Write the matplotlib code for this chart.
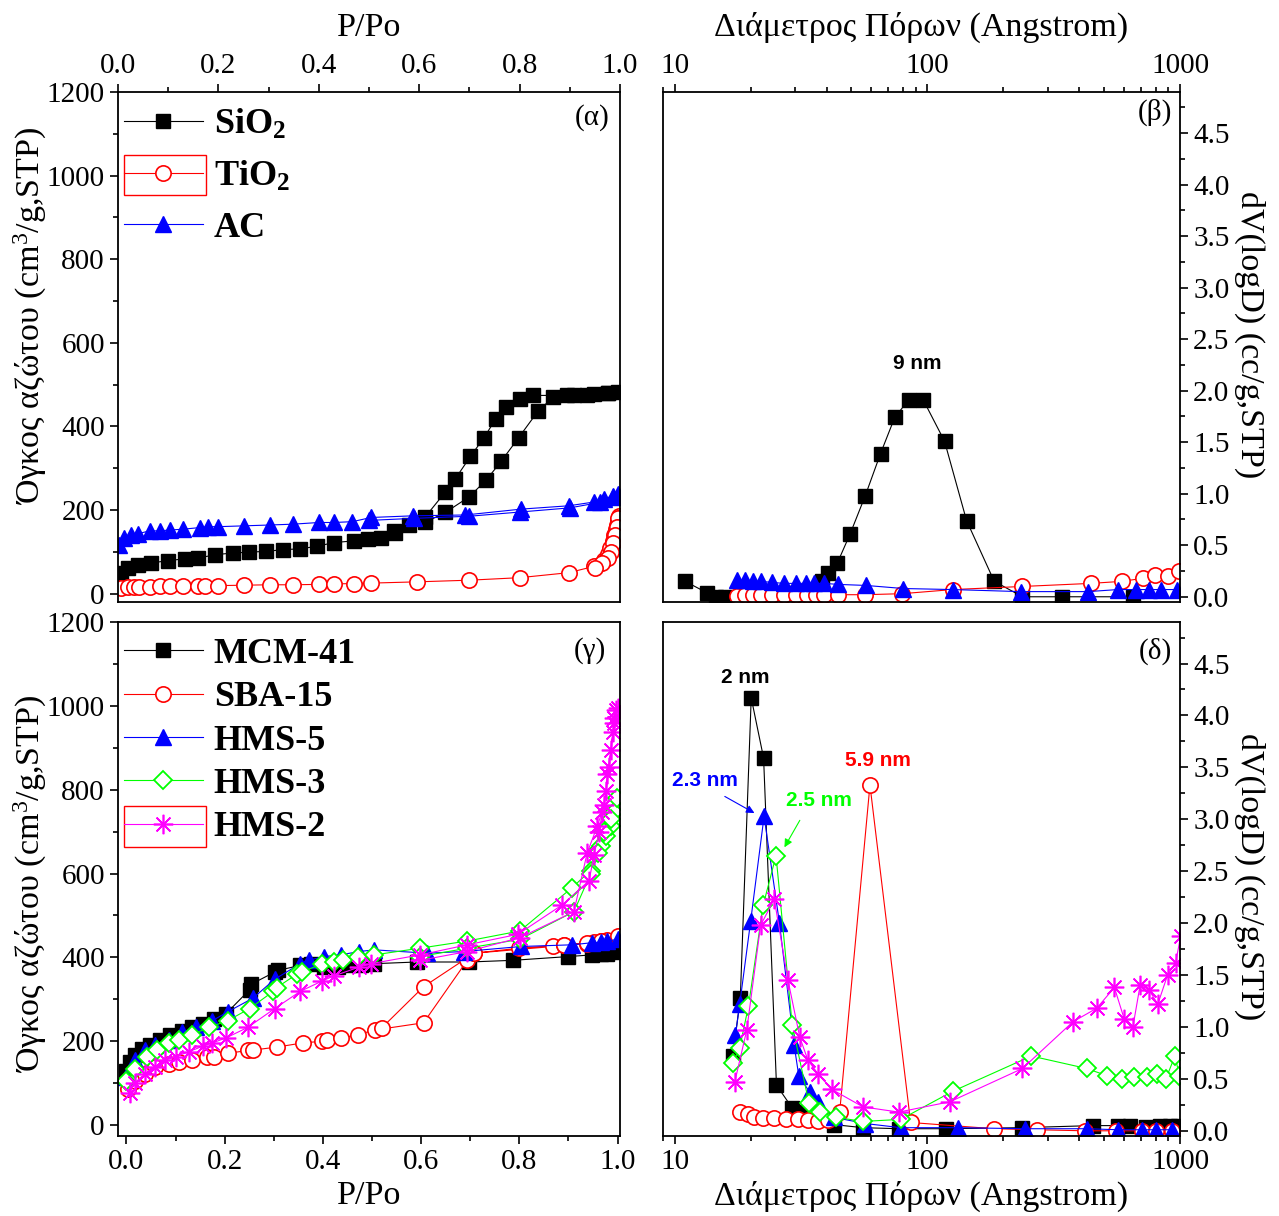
import matplotlib
matplotlib.use('Agg')
import matplotlib.pyplot as plt
from matplotlib.ticker import MultipleLocator, LogLocator, FuncFormatter, NullFormatter
from matplotlib.patches import Rectangle
from matplotlib.lines import Line2D

plt.rcParams['font.family'] = ['Liberation Serif', 'DejaVu Serif']
plt.rcParams['mathtext.fontset'] = 'custom'
plt.rcParams['mathtext.rm'] = 'Liberation Serif'
plt.rcParams['mathtext.bf'] = 'Liberation Serif:bold'
plt.rcParams['mathtext.it'] = 'Liberation Serif:italic'

# ---------------- Panel (a): isotherms ----------------
sio2_p = [0.005, 0.02, 0.039, 0.066, 0.10, 0.133, 0.16, 0.194, 0.228, 0.261, 0.295, 0.329, 0.362,
          0.396, 0.43, 0.47, 0.497, 0.524, 0.551, 0.611, 0.652, 0.699, 0.733, 0.763, 0.798, 0.837,
          0.867, 0.908, 0.948, 0.975, 0.995,
          0.975, 0.935, 0.894, 0.827, 0.80, 0.773, 0.752, 0.729, 0.702, 0.672, 0.652, 0.611, 0.58, 0.55]
sio2_v = [49, 60, 69, 73, 79, 83, 85, 93, 97, 99, 101, 105, 107,
          113, 122, 126, 130, 134, 146, 170, 194, 231, 271, 316, 373, 437,
          470, 474, 478, 480, 482,
          480, 476, 474, 474, 466, 446, 417, 373, 328, 275, 243, 182, 165, 150]

tio2_p = [0.005, 0.019, 0.032, 0.042, 0.063, 0.083, 0.103, 0.13, 0.16, 0.174, 0.2, 0.251, 0.302,
          0.349, 0.4, 0.43, 0.47, 0.504, 0.595, 0.7, 0.8, 0.898, 0.948, 0.968, 0.975, 0.98, 0.985,
          0.988, 0.991, 0.994, 0.996, 0.998,
          0.996, 0.993, 0.99, 0.986, 0.981, 0.975, 0.965, 0.95]
tio2_v = [14, 15, 15, 16, 16, 17, 17, 18, 18, 19, 19, 20, 21,
          21, 22, 23, 24, 25, 28, 32, 38, 50, 65, 80, 95, 110, 125,
          140, 155, 165, 175, 185,
          180, 160, 140, 120, 100, 85, 72, 62]

ac_p = [0.002, 0.012, 0.026, 0.039, 0.063, 0.083, 0.103, 0.13, 0.164, 0.18, 0.2, 0.251, 0.302,
        0.349, 0.4, 0.43, 0.467, 0.504, 0.588, 0.692, 0.803, 0.898, 0.948, 0.968, 0.985, 0.995,
        0.985, 0.96, 0.9, 0.8, 0.7, 0.59, 0.5]
ac_v = [117, 134, 139, 143, 150, 150, 152, 154, 158, 160, 160, 162, 164,
        166, 170, 170, 172, 182, 186, 188, 202, 210, 219, 227, 233, 239,
        232, 218, 205, 195, 185, 180, 175]

# ---------------- Panel (b): pore size distributions ----------------
sio2_d = [11.0, 13.4, 14.6, 15.8, 38.4, 40.6, 44.1, 49.5, 56.8, 65.3, 74.3, 84.3, 96.4, 117, 143,
          184, 238, 342, 649]
sio2_dv = [0.15, 0.04, 0.0, 0.0, 0.15, 0.23, 0.33, 0.61, 0.98, 1.39, 1.74, 1.91, 1.91, 1.51, 0.74,
           0.15, 0.0, 0.0, 0.0]

tio2_d = [17.6, 19.0, 20.4, 21.9, 24.2, 27.0, 30.2, 33.5, 36.3, 39.1, 44.4, 56.8, 79.5, 126, 238,
          445, 592, 716, 797, 898, 992]
tio2_dv = [0.01, 0.02, 0.02, 0.02, 0.02, 0.02, 0.02, 0.02, 0.02, 0.02, 0.02, 0.02, 0.03, 0.07, 0.10,
           0.13, 0.15, 0.18, 0.21, 0.20, 0.25]

ac_d = [17.6, 19.0, 20.4, 21.9, 24.2, 27.0, 30.2, 33.0, 35.7, 39.1, 44.4, 57.1, 80.5, 126, 234,
        432, 568, 667, 757, 844, 975]
ac_dv = [0.16, 0.16, 0.15, 0.15, 0.14, 0.13, 0.13, 0.13, 0.13, 0.13, 0.12, 0.11, 0.08, 0.07, 0.05,
         0.05, 0.07, 0.07, 0.07, 0.07, 0.07]

# ---------------- Panel (c): isotherms ----------------
mcm_p = [0.0, 0.007, 0.017, 0.031, 0.048, 0.069, 0.089, 0.113, 0.134, 0.155, 0.179, 0.203, 0.251,
         0.254, 0.302, 0.309, 0.354, 0.375, 0.402, 0.43, 0.454, 0.478, 0.505, 0.591, 0.698, 0.787,
         0.9, 0.948, 0.966, 0.979, 0.999]
mcm_v = [130, 151, 167, 181, 192, 204, 214, 225, 233, 241, 253, 266, 323,
         336, 365, 369, 381, 385, 377, 377, 381, 381, 385, 389, 389, 393,
         402, 406, 407, 408, 414]

sba_p = [0.003, 0.017, 0.038, 0.058, 0.086, 0.107, 0.134, 0.165, 0.179, 0.206, 0.247, 0.258, 0.306,
         0.359, 0.399, 0.409, 0.436, 0.471, 0.507, 0.605, 0.694, 0.708, 0.869, 0.89, 0.938, 0.952,
         0.966, 0.979, 1.0,
         0.966, 0.938, 0.89, 0.80, 0.708, 0.605, 0.52]
sba_v = [85, 105, 122, 138, 146, 151, 155, 163, 163, 171, 178, 179, 186,
         196, 200, 204, 207, 216, 227, 244, 393, 410, 426, 430, 433, 436,
         439, 441, 451,
         440, 434, 430, 422, 410, 330, 232]

hms5_p = [0.0, 0.017, 0.038, 0.058, 0.086, 0.113, 0.141, 0.175, 0.206, 0.258, 0.302, 0.354, 0.371,
          0.402, 0.436, 0.474, 0.505, 0.612, 0.687, 0.804, 0.907, 0.948, 0.966, 0.979, 1.0]
hms5_v = [114, 155, 179, 192, 204, 221, 233, 249, 270, 303, 348, 385, 393,
          402, 406, 414, 418, 410, 414, 426, 430, 435, 436, 439, 443]

hms3_p = [0.0, 0.017, 0.041, 0.062, 0.086, 0.107, 0.134, 0.168, 0.206, 0.251, 0.299, 0.306, 0.347,
          0.357, 0.399, 0.423, 0.44, 0.471, 0.505, 0.598, 0.694, 0.801, 0.907, 0.945, 0.955, 0.966,
          0.976, 0.986, 0.993, 0.999,
          0.986, 0.973, 0.96, 0.945, 0.911, 0.801, 0.694, 0.598]
hms3_v = [105, 134, 163, 179, 196, 204, 216, 233, 249, 278, 319, 328, 360,
          365, 385, 389, 393, 402, 406, 422, 439, 463, 566, 607, 649, 665,
          690, 714, 747, 780,
          731, 698, 649, 599, 509, 443, 422, 402]

hms2_p = [0.007, 0.017, 0.038, 0.058, 0.079, 0.1, 0.127, 0.155, 0.175, 0.203, 0.247, 0.302, 0.354,
          0.399, 0.423, 0.474, 0.498, 0.598, 0.694, 0.797, 0.887, 0.942, 0.952, 0.962, 0.969, 0.976,
          0.979, 0.986, 0.99, 0.993, 0.997, 1.0,
          0.993, 0.983, 0.973, 0.959, 0.938, 0.911, 0.801, 0.694, 0.598]
hms2_v = [77, 101, 122, 138, 155, 163, 175, 188, 196, 208, 233, 278, 319,
          344, 356, 377, 385, 406, 430, 455, 525, 583, 644, 698, 747, 797,
          838, 895, 937, 970, 990, 994,
          960, 854, 764, 714, 649, 509, 447, 414, 393]

# ---------------- Panel (d): pore size distributions ----------------
mcm_d = [17.0, 18.2, 20.1, 22.5, 25.3, 29.2, 31.3, 42.6, 55.7, 77.1, 119, 236, 451, 570, 632, 732,
         832, 910, 980]
mcm_dv = [0.72, 1.28, 4.17, 3.59, 0.44, 0.22, 0.18, 0.06, 0.03, 0.02, 0.02, 0.03, 0.05, 0.05, 0.05,
          0.04, 0.05, 0.05, 0.05]

sba_d = [18.2, 19.6, 20.7, 22.4, 24.8, 27.6, 30.8, 33.7, 36.9, 40.4, 45.0, 59.3, 85.9, 183, 272,
         420, 560, 708, 804, 927]
sba_dv = [0.18, 0.16, 0.13, 0.12, 0.12, 0.11, 0.11, 0.10, 0.09, 0.10, 0.18, 3.33, 0.08, 0.02, 0.01,
          0.0, 0.0, 0.0, 0.0, 0.0]

hms5_d = [17.4, 18.1, 20.0, 22.6, 26.0, 29.7, 31.0, 34.3, 36.9, 42.6, 56.8, 78.5, 132, 244, 427,
          570, 708, 804, 927]
hms5_dv = [0.92, 1.22, 2.02, 3.03, 2.0, 0.83, 0.53, 0.37, 0.28, 0.13, 0.07, 0.03, 0.03, 0.02, 0.02,
           0.01, 0.01, 0.01, 0.01]

hms3_d = [17.0, 18.1, 19.6, 22.4, 25.2, 29.2, 34.0, 37.5, 43.4, 55.7, 78.5, 126, 258, 427, 515,
          587, 658, 739, 809, 879, 955, 995]
hms3_dv = [0.65, 0.80, 1.20, 2.17, 2.65, 1.02, 0.27, 0.18, 0.13, 0.09, 0.11, 0.38, 0.72, 0.60, 0.53,
           0.50, 0.52, 0.52, 0.55, 0.50, 0.72, 0.53]

hms2_d = [17.3, 19.3, 21.9, 24.8, 28.1, 31.3, 33.7, 36.9, 41.8, 55.7, 77.1, 123, 238, 377, 468,
          550, 601, 651, 695, 752, 817, 893, 961, 1007]
hms2_dv = [0.47, 0.97, 1.98, 2.23, 1.45, 0.90, 0.68, 0.55, 0.40, 0.23, 0.18, 0.28, 0.60, 1.05, 1.18,
           1.38, 1.08, 1.0, 1.40, 1.36, 1.22, 1.50, 1.62, 1.88]

# labels
leg_top = [r'SiO$_\mathbf{2}$', r'TiO$_\mathbf{2}$', 'AC']
leg_bot = ['MCM-41', 'SBA-15', 'HMS-5', 'HMS-3', 'HMS-2']
xlab_iso = 'P/Po'
xlab_psd = 'Διάμετρος Πόρων (Angstrom)'
ylab_iso = 'Όγκος αζώτου (cm$^3$/g,STP)'
ylab_psd = 'dV(logD) (cc/g,STP)'

# styles
LW = 0.8
sty_black = dict(color='black', marker='s', ms=10, lw=LW, mec='black', mfc='black')
sty_red = dict(color='red', marker='o', ms=11, lw=LW, mec='red', mfc='white', mew=1.2)
sty_blue = dict(color='blue', marker='^', ms=11, lw=LW, mec='blue', mfc='blue')
sty_green = dict(color='#00FF00', marker='D', ms=9, lw=LW, mec='#00FF00', mfc='white', mew=1.3)
sty_mag = dict(color='#FF00FF', marker=(8, 2, 0), ms=14, lw=LW, mec='#FF00FF', mew=1.2)

TICK_FS = 21
LAB_FS = 24.5
YLAB_FS = 24.5
LEG_FS = 26

fig = plt.figure(figsize=(12.79, 12.16), dpi=100)
axA = fig.add_axes([0.0923, 0.505, 0.3925, 0.4194])
axB = fig.add_axes([0.5184, 0.505, 0.4042, 0.4194])
axC = fig.add_axes([0.0923, 0.0658, 0.3925, 0.4227])
axD = fig.add_axes([0.5184, 0.0658, 0.4042, 0.4227])

for ax in (axA, axB, axC, axD):
    for s in ax.spines.values():
        s.set_linewidth(1.3)

fmt1 = FuncFormatter(lambda v, p: f'{v:.1f}')
fmt0 = FuncFormatter(lambda v, p: f'{v:.0f}')
fmtlog = FuncFormatter(lambda v, p: f'{v:g}')

leg_kw = dict(loc='upper left', bbox_to_anchor=(-0.02, 1.0), frameon=False,
              prop={'weight': 'bold', 'size': LEG_FS},
              handlelength=2.2, borderaxespad=0.05, handletextpad=0.3, borderpad=0.38)

# ----- (a)
axA.plot(sio2_p, sio2_v, **sty_black)
axA.plot(tio2_p, tio2_v, **sty_red)
axA.plot(ac_p, ac_v, **sty_blue)
axA.set_xlim(0, 1.0)
axA.set_ylim(-20, 1200)
axA.xaxis.tick_top()
axA.xaxis.set_label_position('top')
axA.xaxis.set_major_locator(MultipleLocator(0.2))
axA.xaxis.set_minor_locator(MultipleLocator(0.1))
axA.xaxis.set_major_formatter(fmt1)
axA.yaxis.set_major_locator(MultipleLocator(200))
axA.yaxis.set_minor_locator(MultipleLocator(100))
axA.yaxis.set_major_formatter(fmt0)
axA.tick_params(which='both', direction='out', top=True, bottom=False, left=True, right=False,
                labeltop=True, labelbottom=False, labelsize=TICK_FS, width=1.2)
axA.tick_params(which='major', length=6)
axA.tick_params(which='minor', length=3.5)
axA.set_xlabel(xlab_iso, fontsize=LAB_FS, labelpad=12)
axA.set_ylabel(ylab_iso, fontsize=YLAB_FS, va='center')
axA.yaxis.set_label_coords(-0.175, 0.56)
axA.text(0.945, 0.95, '(α)', transform=axA.transAxes, fontsize=21, ha='center', va='center')

hA = [Line2D([], [], **sty_black), Line2D([], [], **sty_red), Line2D([], [], **sty_blue)]
axA.legend(hA, leg_top, labelspacing=0.5, **leg_kw)
axA.add_patch(Rectangle((0.012, 0.798), 0.163, 0.078, transform=axA.transAxes, fill=False,
                        ec='red', lw=1.0, clip_on=False))

# ----- (b)
axB.plot(sio2_d, sio2_dv, **sty_black)
axB.plot(tio2_d, tio2_dv, **sty_red)
axB.plot(ac_d, ac_dv, **sty_blue)
axB.set_xscale('log')
axB.set_xlim(9, 1000)
axB.set_ylim(-0.05, 4.9)
axB.xaxis.tick_top()
axB.xaxis.set_label_position('top')
axB.yaxis.tick_right()
axB.yaxis.set_label_position('right')
axB.xaxis.set_major_locator(LogLocator(base=10, numticks=10))
axB.xaxis.set_minor_locator(LogLocator(base=10, subs=range(2, 10), numticks=20))
axB.xaxis.set_major_formatter(fmtlog)
axB.xaxis.set_minor_formatter(NullFormatter())
axB.yaxis.set_major_locator(MultipleLocator(0.5))
axB.yaxis.set_minor_locator(MultipleLocator(0.25))
axB.yaxis.set_major_formatter(fmt1)
axB.tick_params(which='both', direction='out', top=True, bottom=False, left=False, right=True,
                labeltop=True, labelbottom=False, labelleft=False, labelright=True,
                labelsize=TICK_FS, width=1.2)
axB.tick_params(which='major', length=6)
axB.tick_params(which='minor', length=3.5)
axB.set_xlabel(xlab_psd, fontsize=LAB_FS, labelpad=12)
axB.set_ylabel(ylab_psd, fontsize=YLAB_FS, rotation=270, va='center')
axB.yaxis.set_label_coords(1.135, 0.524)
axB.text(0.952, 0.96, '(β)', transform=axB.transAxes, fontsize=21, ha='center', va='center')
axB.text(91, 2.26, '9 nm', fontsize=15, fontweight='bold', family='Liberation Sans',
         ha='center', va='center')

# ----- (c)
axC.plot(mcm_p, mcm_v, **sty_black)
axC.plot(sba_p, sba_v, **sty_red)
axC.plot(hms5_p, hms5_v, **sty_blue)
axC.plot(hms3_p, hms3_v, **sty_green)
axC.plot(hms2_p, hms2_v, **sty_mag)
axC.set_xlim(-0.017, 1.005)
axC.set_ylim(-26, 1200)
axC.xaxis.set_major_locator(MultipleLocator(0.2))
axC.xaxis.set_minor_locator(MultipleLocator(0.1))
axC.xaxis.set_major_formatter(fmt1)
axC.yaxis.set_major_locator(MultipleLocator(200))
axC.yaxis.set_minor_locator(MultipleLocator(100))
axC.yaxis.set_major_formatter(fmt0)
axC.tick_params(which='both', direction='out', top=False, bottom=True, left=True, right=False,
                labelsize=TICK_FS, width=1.2)
axC.tick_params(which='major', length=6)
axC.tick_params(which='minor', length=3.5)
axC.set_xlabel(xlab_iso, fontsize=LAB_FS, labelpad=4)
axC.set_ylabel(ylab_iso, fontsize=YLAB_FS, va='center')
axC.yaxis.set_label_coords(-0.175, 0.49)
axC.text(0.94, 0.945, '(γ)', transform=axC.transAxes, fontsize=21, ha='center', va='center')

hC = [Line2D([], [], **sty_black), Line2D([], [], **sty_red), Line2D([], [], **sty_blue),
      Line2D([], [], **sty_green), Line2D([], [], **sty_mag)]
axC.legend(hC, leg_bot, labelspacing=0.28, **leg_kw)
axC.add_patch(Rectangle((0.012, 0.562), 0.163, 0.08, transform=axC.transAxes, fill=False,
                        ec='red', lw=1.0, clip_on=False))

# ----- (d)
axD.plot(mcm_d, mcm_dv, **sty_black)
axD.plot(sba_d, sba_dv, **sty_red)
axD.plot(hms5_d, hms5_dv, **sty_blue)
axD.plot(hms3_d, hms3_dv, **sty_green)
axD.plot(hms2_d, hms2_dv, **sty_mag)
axD.set_xscale('log')
axD.set_xlim(9, 1000)
axD.set_ylim(-0.05, 4.9)
axD.yaxis.tick_right()
axD.yaxis.set_label_position('right')
axD.xaxis.set_major_locator(LogLocator(base=10, numticks=10))
axD.xaxis.set_minor_locator(LogLocator(base=10, subs=range(2, 10), numticks=20))
axD.xaxis.set_major_formatter(fmtlog)
axD.xaxis.set_minor_formatter(NullFormatter())
axD.yaxis.set_major_locator(MultipleLocator(0.5))
axD.yaxis.set_minor_locator(MultipleLocator(0.25))
axD.yaxis.set_major_formatter(fmt1)
axD.tick_params(which='both', direction='out', top=False, bottom=True, left=False, right=True,
                labelleft=False, labelright=True, labelsize=TICK_FS, width=1.2)
axD.tick_params(which='major', length=6)
axD.tick_params(which='minor', length=3.5)
axD.set_xlabel(xlab_psd, fontsize=LAB_FS, labelpad=4)
axD.set_ylabel(ylab_psd, fontsize=YLAB_FS, rotation=270, va='center')
axD.yaxis.set_label_coords(1.135, 0.504)
axD.text(0.952, 0.942, '(δ)', transform=axD.transAxes, fontsize=21, ha='center', va='center')

ann = dict(fontsize=15, fontweight='bold', family='Liberation Sans', ha='center', va='center')
axD.text(19.0, 4.37, '2 nm', color='black', **ann)
axD.text(13.2, 3.37, '2.3 nm', color='blue', **ann)
axD.text(37.2, 3.18, '2.5 nm', color='#00FF00', **ann)
axD.text(64.0, 3.57, '5.9 nm', color='red', **ann)
axD.annotate('', xy=(20.7, 3.06), xytext=(15.8, 3.22),
             arrowprops=dict(arrowstyle='-|>', color='blue', lw=0.8, mutation_scale=12,
                             shrinkA=0, shrinkB=0))
axD.annotate('', xy=(27.2, 2.73), xytext=(31.3, 2.99),
             arrowprops=dict(arrowstyle='-|>', color='#00FF00', lw=0.8, mutation_scale=12,
                             shrinkA=0, shrinkB=0))

fig.savefig('out.png', dpi=100)
